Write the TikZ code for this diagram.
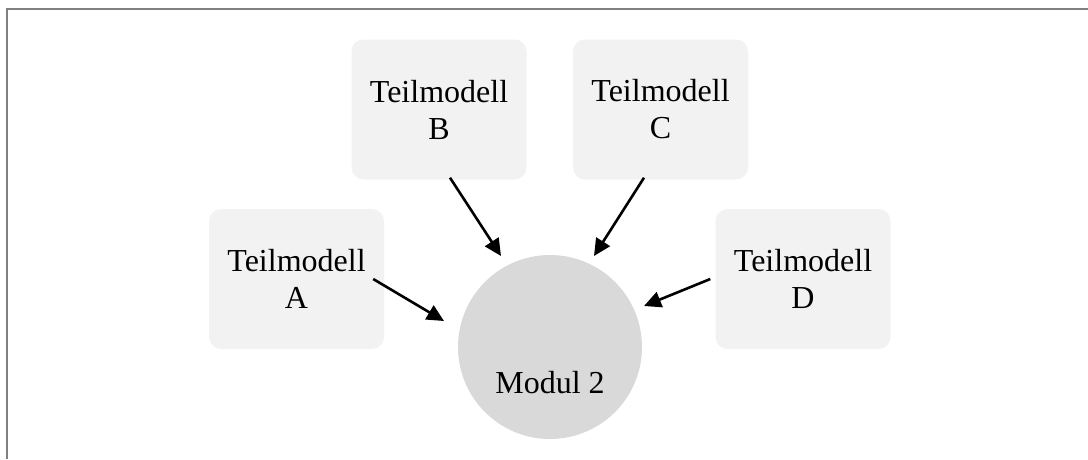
\documentclass[tikz,border=0pt]{standalone}
\usepackage{fontspec}
\setmainfont{Liberation Serif}
\usetikzlibrary{arrows.meta,calc}
\definecolor{boxfill}{HTML}{F2F2F2}
\definecolor{hubfill}{HTML}{D9D9D9}
\definecolor{framegray}{HTML}{808080}
\tikzset{
  submodel/.style={rectangle, rounded corners=12pt, fill=boxfill, draw=none,
    minimum width=175pt, minimum height=140pt, inner sep=0pt, align=center,
    font=\fontsize{32}{37}\selectfont},
  hub/.style={circle, fill=hubfill, draw=none, minimum size=184pt, inner sep=0pt},
  feed/.style={line width=2.6pt, -{Triangle[length=17pt,width=16pt]}},
}
\begin{document}
\begin{tikzpicture}[x=1pt, y=-1pt]
  \useasboundingbox (0,0) rectangle (1088,459);
  % outer frame (open to the right and bottom)
  \draw[framegray, line width=2pt] (7,459) -- (7,9) -- (1090,9);

  % central module
  \node[hub, label={[yshift=-36pt, font=\fontsize{32}{37}\selectfont]center:Modul 2}] (M) at (550,347) {};

  % partial models
  \node[submodel] (A) at (296.5,279)   {Teilmodell\\A};
  \node[submodel] (B) at (439,109.5)   {Teilmodell\\B};
  \node[submodel] (C) at (660.5,109.5) {Teilmodell\\C};
  \node[submodel] (D) at (803,279)     {Teilmodell\\D};

  % connections into the module
  \draw[feed] ([xshift=-11pt]A.east) -- ($(M)+(-106,-26)$);
  \draw[feed] ([xshift=11pt,yshift=2pt]B.south) -- ($(M)+(-49,-91)$);
  \draw[feed] ([xshift=-16.5pt,yshift=2pt]C.south) -- ($(M)+(44,-91)$);
  \draw[feed] ([xshift=-5pt]D.west) -- ($(M)+(94,-41)$);
\end{tikzpicture}
\end{document}
